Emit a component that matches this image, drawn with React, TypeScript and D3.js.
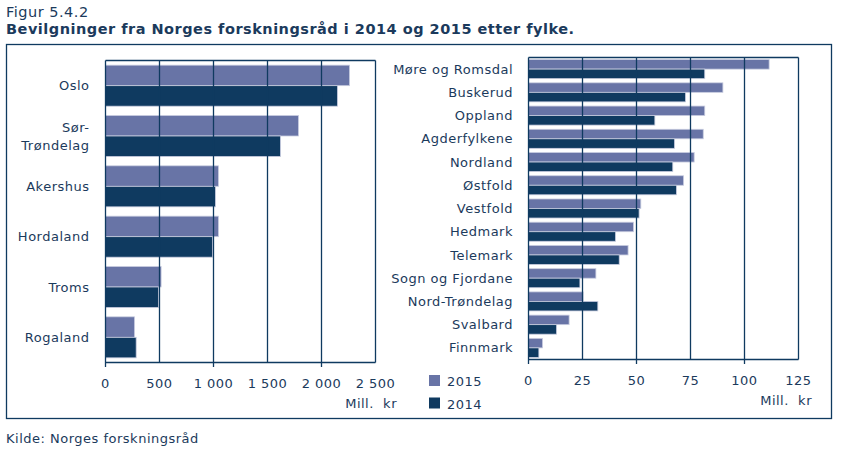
import React from "react";
import * as d3 from "d3";

const leftCategories = ["Oslo", "Sør-Trøndelag", "Akershus", "Hordaland", "Troms", "Rogaland"];
const left2015 = [2260, 1787, 1046, 1046, 515, 269];
const left2014 = [2148, 1620, 1018, 991, 490, 284];
const leftTicks = [0, 500, 1000, 1500, 2000, 2500];
const leftTickLabels = ["0", "500", "1 000", "1 500", "2 000", "2 500"];
const leftMajorTicks = [0, 1000, 2000];

const rightCategories = [
  "Møre og Romsdal", "Buskerud", "Oppland", "Agderfylkene", "Nordland", "Østfold",
  "Vestfold", "Hedmark", "Telemark", "Sogn og Fjordane", "Nord-Trøndelag", "Svalbard", "Finnmark",
];
const right2015 = [111.4, 90, 81.6, 80.9, 76.7, 71.8, 52, 48.6, 46.1, 31.2, 25.3, 18.8, 6.5];
const right2014 = [81.6, 72.7, 58.5, 67.6, 66.8, 68.5, 51.2, 40.3, 42, 23.8, 32.1, 13, 4.8];
const rightTicks = [0, 25, 50, 75, 100, 125];
const rightTickLabels = ["0", "25", "50", "75", "100", "125"];
const rightMajorTicks = [0, 50, 100];

const seriesNames = ["2015", "2014"];
const C2015 = "#6874a6";
const C2014 = "#0f3a60";
const LINE = "#0f3a60";
const TEXT = "#1b3a5c";
const FONT = "Verdana, 'DejaVu Sans', sans-serif";
const LS = 0.5;

type PanelProps = {
  cats: string[];
  v15: number[];
  v14: number[];
  domain: [number, number];
  xRange: [number, number];
  yRange: [number, number];
  ticks: number[];
  tickLabels: string[];
  major: number[];
  labelX: number;
  pad: number;
  fontSize: number;
  unitRight: number;
};

function Panel(p: PanelProps) {
  const x = d3.scaleLinear().domain(p.domain).range(p.xRange);
  const y = d3.scaleBand<string>().domain(p.cats).range(p.yRange).paddingInner(p.pad).paddingOuter(p.pad / 2);
  const bw = y.bandwidth() / 2;
  const [x0, x1] = p.xRange;
  const [y0, y1] = p.yRange;
  return (
    <g>
      {p.cats.map((c, i) => {
        const yy = y(c)!;
        return (
          <g key={c}>
            <rect x={x(0)} y={yy} width={x(p.v15[i]) - x(0)} height={bw} fill={C2015} stroke="#c9cde0" strokeWidth={0.8} />
            <rect x={x(0)} y={yy + bw} width={x(p.v14[i]) - x(0)} height={bw} fill={C2014} stroke="#c9cde0" strokeWidth={0.8} />
          </g>
        );
      })}
      {p.ticks.map((t) => (
        <line key={"g" + t} x1={x(t)} x2={x(t)} y1={y0} y2={y1 + (p.major.includes(t) && t !== p.domain[1] ? 4.5 : 0)} stroke={LINE} strokeWidth={1.3} />
      ))}
      <line x1={x0} x2={x1} y1={y0} y2={y0} stroke={LINE} strokeWidth={1.3} />
      <line x1={x0} x2={x1} y1={y1} y2={y1} stroke={LINE} strokeWidth={1.3} />
      {p.ticks.map((t, i) => (
        <text key={"t" + t} x={x(t)} y={y1 + 25} textAnchor="middle" fontSize={13} letterSpacing={LS} fill={TEXT} fontFamily={FONT}>
          {p.tickLabels[i]}
        </text>
      ))}
      <text x={p.unitRight} y={y1 + 45} textAnchor="end" fontSize={13} letterSpacing={LS} fill={TEXT} fontFamily={FONT} style={{ whiteSpace: "pre" }}>
        {"Mill.  kr"}
      </text>
      {p.cats.map((c) => {
        const cy = y(c)! + y.bandwidth() / 2;
        const parts = c === "Sør-Trøndelag" ? ["Sør-", "Trøndelag"] : [c];
        return (
          <text key={"l" + c} x={p.labelX} textAnchor="end" fontSize={p.fontSize} letterSpacing={LS} fill={TEXT} fontFamily={FONT}>
            {parts.map((s, k) => (
              <tspan key={k} x={p.labelX} y={cy + 4.6 + (k - (parts.length - 1) / 2) * 18}>
                {s}
              </tspan>
            ))}
          </text>
        );
      })}
    </g>
  );
}

export default function App() {
  return (
    <svg width={856} height={457} style={{ position: "absolute", left: 0, top: 0, background: "#fff" }}>
      <text x={6} y={16.5} fontSize={14.5} letterSpacing={LS} fill={TEXT} fontFamily={FONT}>Figur 5.4.2</text>
      <text x={6} y={34.3} fontSize={14.5} letterSpacing={LS} fontWeight="bold" fill={TEXT} fontFamily={FONT}>
        Bevilgninger fra Norges forskningsråd i 2014 og 2015 etter fylke.
      </text>
      <rect x={6.5} y={44.5} width={825} height={374} fill="none" stroke={LINE} strokeWidth={1.3} />
      <Panel
        cats={leftCategories}
        v15={left2015}
        v14={left2014}
        domain={[0, 2500]}
        xRange={[105.5, 375.5]}
        yRange={[60.5, 362.5]}
        ticks={leftTicks}
        tickLabels={leftTickLabels}
        major={leftMajorTicks}
        labelX={89.5}
        pad={0.185}
        fontSize={13}
        unitRight={397}
      />
      <Panel
        cats={rightCategories}
        v15={right2015}
        v14={right2014}
        domain={[0, 125]}
        xRange={[528.5, 798.5]}
        yRange={[57.5, 359.5]}
        ticks={rightTicks}
        tickLabels={rightTickLabels}
        major={rightMajorTicks}
        labelX={513}
        pad={0.18}
        fontSize={13}
        unitRight={812}
      />
      {seriesNames.map((s, i) => (
        <g key={s}>
          <rect x={429} y={375 + i * 22.5} width={11} height={11} fill={i === 0 ? C2015 : C2014} />
          <text x={447} y={386 + i * 22.5} fontSize={13} letterSpacing={LS} fill={TEXT} fontFamily={FONT}>{s}</text>
        </g>
      ))}
      <text x={6} y={443} fontSize={13} letterSpacing={LS} fill={TEXT} fontFamily={FONT}>Kilde: Norges forskningsråd</text>
    </svg>
  );
}
